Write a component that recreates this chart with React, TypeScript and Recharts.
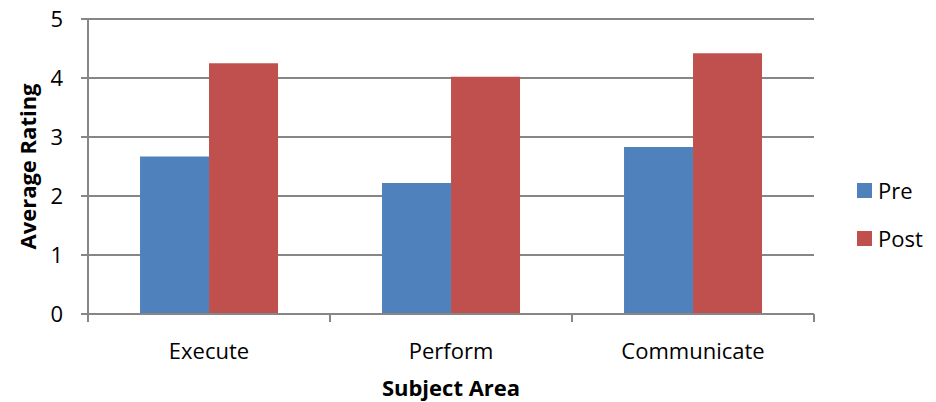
import React from "react";
import {
  BarChart,
  Bar,
  XAxis,
  YAxis,
  CartesianGrid,
} from "recharts";

const categories = ["Execute", "Perform", "Communicate"];
const preValues = [2.67, 2.22, 2.83];
const postValues = [4.25, 4.02, 4.42];
const yTicks = [0, 1, 2, 3, 4, 5];

const data = categories.map((name, i) => ({
  name,
  Pre: preValues[i],
  Post: postValues[i],
}));

const FONT = "'Open Sans', 'Noto Sans', sans-serif";
const FS = 22;
const PRE = "#4F81BD";
const POST = "#C0504D";
const AXIS = "#868686";

const W = 936;
const H = 402;
const M = { top: 19, right: 122, left: 28, bottom: 0 };
const Y_W = 60;
const X_H = 88;
const PLOT_W = W - M.left - M.right - Y_W;

// tick marks sit on category boundaries, not centres
const XTick = ({ x, y, payload, index }: any) => {
  const bw = PLOT_W / categories.length;
  const left = x - bw / 2;
  return (
    <g>
      <line x1={left} x2={left} y1={y - 8} y2={y} stroke={AXIS} strokeWidth={2} />
      {index === categories.length - 1 && (
        <line x1={left + bw} x2={left + bw} y1={y - 8} y2={y} stroke={AXIS} strokeWidth={2} />
      )}
      <text
        x={x}
        y={y + 37}
        textAnchor="middle"
        fontFamily={FONT}
        fontSize={FS}
        fill="#000"
      >
        {payload.value}
      </text>
    </g>
  );
};

const legendItems = [
  { label: "Pre", color: PRE },
  { label: "Post", color: POST },
];

export default function App() {
  return (
    <div style={{ position: "absolute", left: 0, top: 0, width: W, height: H, background: "#fff" }}>
      <BarChart
        width={W}
        height={H}
        data={data}
        margin={M}
        barCategoryGap="21.5%"
        barGap={0}
      >
        <CartesianGrid vertical={false} stroke={AXIS} strokeWidth={2} />
        <XAxis
          dataKey="name"
          height={X_H}
          axisLine={{ stroke: AXIS, strokeWidth: 2 }}
          tickLine={false}
          tick={<XTick />}
          interval={0}
          label={{
            value: "Subject Area",
            position: "insideBottom",
            offset: 6,
            fontFamily: FONT,
            fontSize: FS,
            fontWeight: 700,
            fill: "#000",
          }}
        />
        <YAxis
          width={Y_W}
          domain={[0, 5]}
          ticks={yTicks}
          interval={0}
          axisLine={{ stroke: AXIS, strokeWidth: 2 }}
          tickLine={{ stroke: AXIS, strokeWidth: 2 }}
          tickSize={7}
          tickMargin={18}
          tick={{ fontFamily: FONT, fontSize: FS, fill: "#000" }}
          label={{
            value: "Average Rating",
            angle: -90,
            position: "insideLeft",
            offset: 0,
            style: { textAnchor: "middle" },
            fontFamily: FONT,
            fontSize: FS,
            fontWeight: 700,
            fill: "#000",
          }}
        />
        <Bar dataKey="Pre" fill={PRE} isAnimationActive={false} />
        <Bar dataKey="Post" fill={POST} isAnimationActive={false} />
      </BarChart>
      <div
        style={{
          position: "absolute",
          left: 857,
          top: 166,
          fontFamily: FONT,
          fontSize: FS,
          color: "#000",
        }}
      >
        {legendItems.map((it) => (
          <div key={it.label} style={{ display: "flex", alignItems: "center", height: 48 }}>
            <span
              style={{
                display: "inline-block",
                width: 15,
                height: 15,
                background: it.color,
                marginRight: 6,
              }}
            />
            {it.label}
          </div>
        ))}
      </div>
    </div>
  );
}
